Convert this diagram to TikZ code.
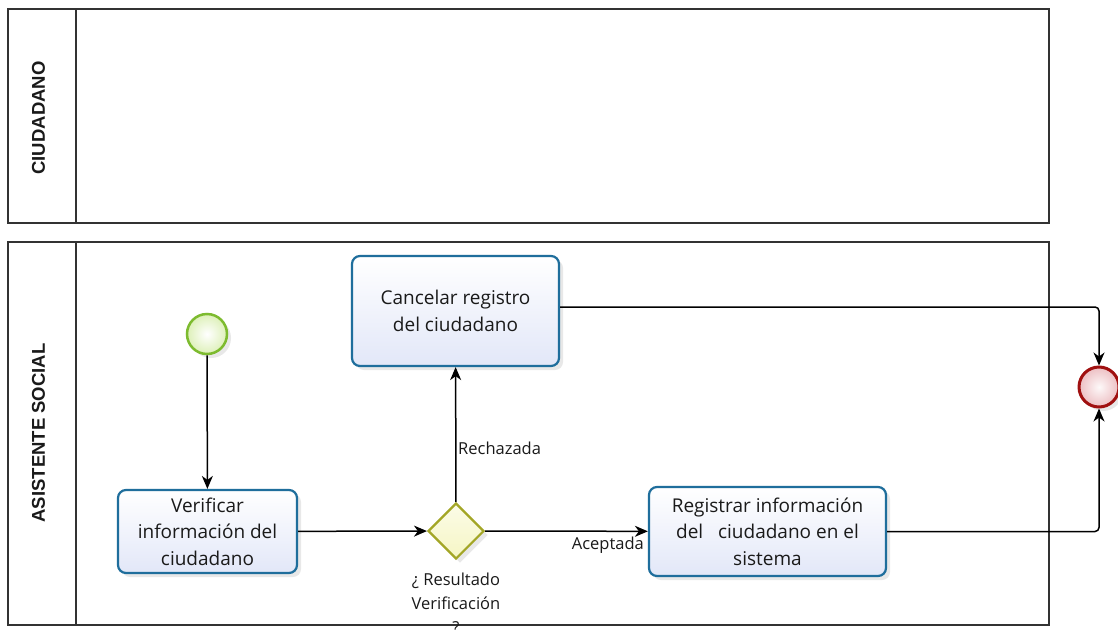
\documentclass[tikz,border=0pt]{standalone}
\usepackage{fontspec}
\setmainfont{Open Sans}
\newfontfamily\lanefont{Liberation Sans}
\usetikzlibrary{arrows.meta,shadows,shapes.geometric}
\definecolor{taskblue}{HTML}{1F6E9C}
\definecolor{taskfill}{HTML}{E2E7F8}
\definecolor{startline}{HTML}{7DBB2F}
\definecolor{startfill}{HTML}{DDF0B8}
\definecolor{gwline}{HTML}{A3A626}
\definecolor{gwfill}{HTML}{F6F6C4}
\definecolor{endline}{HTML}{A01010}
\definecolor{endfill}{HTML}{EDBFC3}
\definecolor{laneline}{HTML}{333333}
\definecolor{txt}{HTML}{1A1A1A}
\begin{document}
\begin{tikzpicture}[x=1pt,y=-1pt,
  lane/.style={draw=laneline, line width=1.4pt},
  lanelabel/.style={rotate=90, inner sep=0pt, text=txt, font=\lanefont\bfseries\fontsize{18.5}{20}\selectfont},
  shad/.style={drop shadow={opacity=0.18, shadow xshift=4pt, shadow yshift=-4pt}},
  task/.style={shad, draw=taskblue, line width=2.2pt, rounded corners=8pt, top color=white, bottom color=taskfill, inner sep=0pt, align=center, text=txt, font=\fontsize{19}{26.5}\selectfont},
  startev/.style={shad, circle, draw=startline, line width=2.5pt, inner color=white, outer color=startfill, minimum size=40pt, inner sep=0pt},
  endev/.style={shad, circle, draw=endline, line width=3pt, inner color=white!90!endfill, outer color=endfill, minimum size=40pt, inner sep=0pt},
  gateway/.style={shad, diamond, aspect=1, draw=gwline, line width=2.2pt, top color=white!60!gwfill, bottom color=gwfill, minimum width=56pt, minimum height=56pt, inner sep=0pt},
  flow/.style={draw=black, line width=1.5pt, -{Stealth[length=13pt,width=11pt,inset=4pt]}},
  lbl/.style={inner sep=0pt, text=txt, font=\fontsize{16.5}{24}\selectfont, align=center}
]
\useasboundingbox (0,0) rectangle (1118,629);
\fill[white] (0,0) rectangle (1118,629);
% lanes
\draw[lane] (8,9) rectangle (1049,223);
\draw[lane] (76,9) -- (76,223);
\draw[lane] (8,242) rectangle (1049,625);
\draw[lane] (76,242) -- (76,625);
\node[lanelabel] (l1) at (38.5,118) {CIUDADANO};
\node[lanelabel] (l2) at (38.5,433) {ASISTENTE SOCIAL};
% nodes
\node[startev] (start) at (207,334) {};
\node[task, minimum width=179pt, minimum height=83pt] (verif) at (207.5,531.5) {Verificar\\información del\\ciudadano};
\node[task, minimum width=207pt, minimum height=110pt] (cancel) at (455.5,311) {Cancelar registro\\del ciudadano};
\node[gateway] (gw) at (456,531) {};
\node[task, minimum width=237pt, minimum height=89pt] (reg) at (767.5,531.5) {Registrar información\\del\ \ \ ciudadano en el\\sistema};
\node[endev] (end) at (1099,387) {};
% labels
\node[lbl] (gwl) at (456,603) {¿ Resultado\\Verificación\\?};
\node[lbl, anchor=west] (rech) at (458,448) {Rechazada};
\node[lbl, anchor=east] (acep) at (644,545) {Aceptada};
% flows
\draw[flow] (start) -- (verif);
\draw[flow] (verif) -- (gw);
\draw[flow] (gw) -- (cancel);
\draw[flow] (gw) -- (reg);
\draw[flow, rounded corners=4pt] ([yshift=4pt]cancel.east) -| (end.north);
\draw[flow, rounded corners=4pt] (reg.east) -| (end.south);
\end{tikzpicture}
\end{document}
